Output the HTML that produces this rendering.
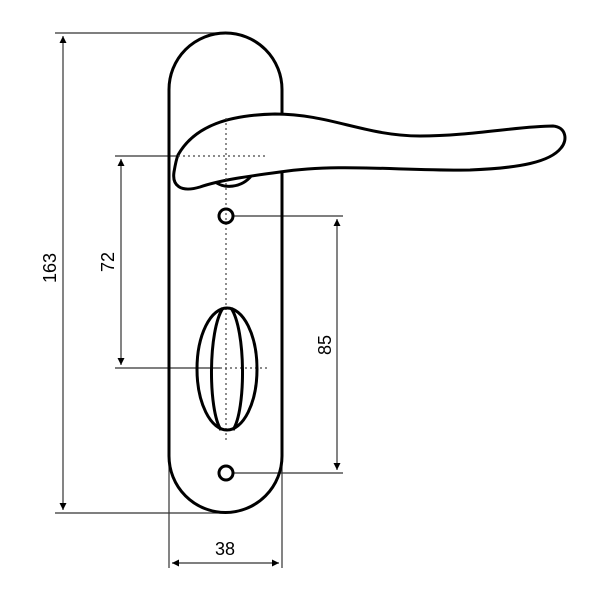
<!DOCTYPE html>
<html><head><style>body{margin:0;background:#fff}svg{display:block}</style></head><body>
<svg width="600" height="600" viewBox="0 0 600 600" xmlns="http://www.w3.org/2000/svg">
<defs><marker id="a" viewBox="0 0 10 10" refX="10" refY="5" markerWidth="9" markerHeight="7" orient="auto-start-reverse" markerUnits="userSpaceOnUse"><path d="M0,0 L10,5 L0,10 z" fill="#000"/></marker></defs>
<g stroke="#333" stroke-width="1.2" fill="none">
<line x1="55" y1="33" x2="226" y2="33"/>
<line x1="55" y1="513" x2="226" y2="513"/>
<line x1="63" y1="36" x2="63" y2="510" marker-start="url(#a)" marker-end="url(#a)"/>
<line x1="115" y1="156" x2="190" y2="156"/>
<line x1="115" y1="368" x2="220" y2="368"/>
<line x1="121" y1="159" x2="121" y2="365" marker-start="url(#a)" marker-end="url(#a)"/>
<line x1="233" y1="216" x2="343" y2="216"/>
<line x1="233" y1="473" x2="343" y2="473"/>
<line x1="337" y1="219" x2="337" y2="470" marker-start="url(#a)" marker-end="url(#a)"/>
<line x1="169" y1="456" x2="169" y2="568"/>
<line x1="282" y1="456" x2="282" y2="568"/>
<line x1="172" y1="563" x2="279" y2="563" marker-start="url(#a)" marker-end="url(#a)"/>
</g>
<path d="M169,456 V89.5 A56.5,56.5 0 0 1 282,89.5 V456 A56.5,56.5 0 0 1 169,456 Z" fill="none" stroke="#000" stroke-width="3"/>
<g stroke="#000" stroke-width="3" fill="#fff">
<path d="M196,145 C198,130 212,123 228,124 L238,133 L210,150 Z"/>
<path d="M213,180 C223,190 242,188 252,175 L235,172 Z"/>
<path d="M178,155 C195,125 230,115 275,114 C330,114 365,136 420,136 C470,136 520,126 553,126 C566,127 568,140 561,148 C550,162 520,168 470,170 C400,171 340,163 280,172 C250,176 220,180 200,187 C180,193 172,185 174,172 C175,166 176,160 178,155 Z"/>
</g>
<g stroke="#444" stroke-width="1.2" stroke-dasharray="2,3" fill="none">
<line x1="226" y1="118" x2="226" y2="440"/>
<line x1="178" y1="156" x2="265" y2="156"/>
<line x1="220" y1="368" x2="268" y2="368"/>
</g>
<g stroke="#000" stroke-width="3" fill="none">
<circle cx="226" cy="216" r="7"/>
<circle cx="226" cy="473" r="7"/>
<ellipse cx="227" cy="369" rx="30" ry="61"/>
<path d="M223,308 C208,330 208,410 221,430"/>
<path d="M231,308 C246,330 246,410 233,430"/>
</g>
<g font-family="Liberation Sans, sans-serif" font-size="18" fill="#000" text-anchor="middle">
<text x="225" y="555">38</text>
<text transform="translate(114,262) rotate(-90)">72</text>
<text transform="translate(331,345) rotate(-90)">85</text>
<text transform="translate(56,268) rotate(-90)">163</text>
</g>
</svg>
</body></html>
